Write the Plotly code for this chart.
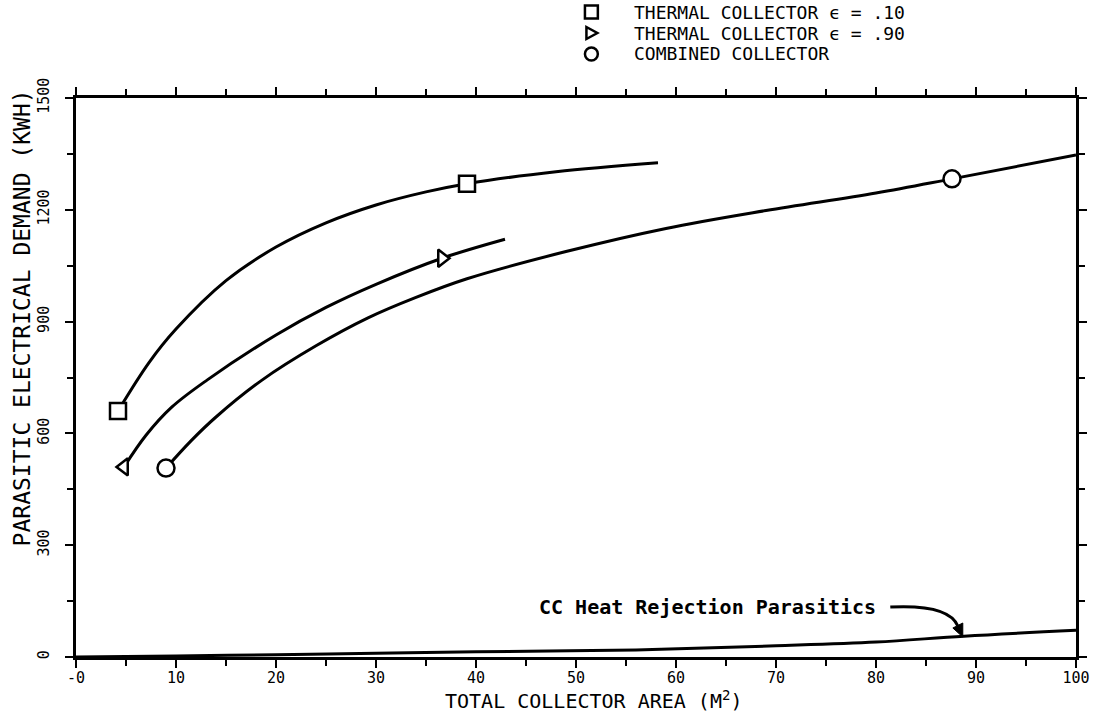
import plotly.graph_objects as go

# ---------------- data ----------------
sq_x = [4.2, 7.3, 10.0, 15.0, 20.0, 25.0, 30.0, 35.0, 39.1, 48.0, 58.2]
sq_y = [660, 790, 880, 1010, 1100, 1165, 1213, 1248, 1270, 1302, 1326]
sq_mx = [4.2, 39.1]
sq_my = [660, 1270]

tri_x = [4.8, 7.0, 9.6, 13.1, 20.0, 25.0, 30.0, 36.6, 42.9]
tri_y = [510, 595, 671, 743, 864, 938, 1000, 1070, 1121]
tri_mx = [36.6, 4.8]
tri_my = [1070, 510]
tri_sym = ["triangle-right", "triangle-left"]

cir_x = [9.0, 11.5, 14.0, 18.6, 24.0, 29.2, 34.0, 39.1, 49.0, 59.0, 69.0, 80.0, 87.6, 100.0]
cir_y = [507, 580, 644, 743, 835, 910, 965, 1015, 1088, 1150, 1198, 1245, 1283, 1347]
cir_mx = [9.0, 87.6]
cir_my = [507, 1283]

cc_x = [0, 10, 20, 30, 40, 56, 70, 80, 88.8, 100]
cc_y = [0, 3, 6, 10, 14, 19, 30, 40, 56, 72]

x_ticks = [0, 10, 20, 30, 40, 50, 60, 70, 80, 90, 100]
x_ticktext = ["-0", "10", "20", "30", "40", "50", "60", "70", "80", "90", "100"]
y_ticks = [0, 300, 600, 900, 1200, 1500]

legend_labels = ["THERMAL COLLECTOR \u03f5 = .10",
                 "THERMAL COLLECTOR \u03f5 = .90",
                 "COMBINED COLLECTOR"]

# ---------------- layout geometry ----------------
W, H = 1102, 713
L, R, T, B = 76, 1083, 98, 657
MONO = "DejaVu Sans Mono"


def px2paper(px, py):
    return (px - L) / (R - L), (B - py) / (B - T)


fig = go.Figure()

line_style = dict(color="black", width=3, shape="spline", smoothing=1.0)
for xs, ys in [(sq_x, sq_y), (tri_x, tri_y), (cir_x, cir_y), (cc_x, cc_y)]:
    fig.add_trace(go.Scatter(x=xs, y=ys, mode="lines", line=line_style,
                             showlegend=False, hoverinfo="skip"))

mk_line = dict(color="black", width=2.5)
fig.add_trace(go.Scatter(x=sq_mx, y=sq_my, mode="markers", showlegend=False,
                         marker=dict(symbol="square", size=16, color="white", line=mk_line)))
fig.add_trace(go.Scatter(x=tri_mx, y=tri_my, mode="markers", showlegend=False,
                         marker=dict(symbol=tri_sym, size=15, color="white", line=mk_line)))
fig.add_trace(go.Scatter(x=cir_mx, y=cir_my, mode="markers", showlegend=False,
                         marker=dict(symbol="circle", size=17, color="white", line=mk_line)))

# ---------------- manual legend ----------------
shapes = []
annotations = []
rows_py = [12, 33, 54]
sym_cx = 595
for i, (py, label) in enumerate(zip(rows_py, legend_labels)):
    tx, ty = px2paper(636, py)
    annotations.append(dict(x=tx, y=ty, xref="paper", yref="paper", text=label,
                            showarrow=False, xanchor="left", yanchor="middle",
                            font=dict(family=MONO, size=18, color="black")))
    h = 6.5
    x0, y0 = px2paper(sym_cx - h, py + h)
    x1, y1 = px2paper(sym_cx + h, py - h)
    if i == 0:
        shapes.append(dict(type="rect", xref="paper", yref="paper", x0=x0, y0=y0, x1=x1, y1=y1,
                           line=dict(color="black", width=2.5)))
    elif i == 1:
        a = px2paper(sym_cx - 5, py - 6)
        b = px2paper(sym_cx - 5, py + 6)
        c = px2paper(sym_cx + 6, py)
        shapes.append(dict(type="path", xref="paper", yref="paper",
                           path=f"M {a[0]},{a[1]} L {b[0]},{b[1]} L {c[0]},{c[1]} Z",
                           line=dict(color="black", width=2.5)))
    else:
        shapes.append(dict(type="circle", xref="paper", yref="paper", x0=x0, y0=y0, x1=x1, y1=y1,
                           line=dict(color="black", width=2.5)))

# axis titles
ax_x, ax_y = px2paper(597, 700)
annotations.append(dict(x=ax_x, y=ax_y, xref="paper", yref="paper",
                        text="TOTAL COLLECTOR AREA (M<sup>2</sup>)", showarrow=False,
                        xanchor="center", yanchor="middle",
                        font=dict(family=MONO, size=20, color="black")))
ay_x, ay_y = px2paper(22, 318)
annotations.append(dict(x=ay_x, y=ay_y, xref="paper", yref="paper",
                        text="PARASITIC ELECTRICAL DEMAND (KWH)", showarrow=False,
                        textangle=-90, xanchor="center", yanchor="middle",
                        font=dict(family=MONO, size=23, color="black")))

# CC annotation with curved arrow
cx, cy = px2paper(712, 607)
annotations.append(dict(x=cx, y=cy, xref="paper", yref="paper",
                        text="<b>CC Heat Rejection Parasitics</b>", showarrow=False,
                        xanchor="center", yanchor="middle",
                        font=dict(family=MONO, size=20, color="black")))
p0 = px2paper(896, 607)
pc = px2paper(955, 604)
p1 = px2paper(964, 626)
shapes.append(dict(type="path", xref="paper", yref="paper",
                   path=f"M {p0[0]},{p0[1]} Q {pc[0]},{pc[1]} {p1[0]},{p1[1]}",
                   line=dict(color="black", width=3)))
h_tip = px2paper(969, 637)
h_a = px2paper(969, 623)
h_b = px2paper(959, 628)
shapes.append(dict(type="path", xref="paper", yref="paper",
                   path=f"M {h_tip[0]},{h_tip[1]} L {h_a[0]},{h_a[1]} L {h_b[0]},{h_b[1]} Z",
                   fillcolor="black", line=dict(color="black", width=1)))

axis_common = dict(showline=True, linecolor="black", linewidth=2.5, mirror="allticks",
                   ticks="outside", ticklen=8, tickwidth=2, tickcolor="black",
                   showgrid=False, zeroline=False,
                   tickfont=dict(family=MONO, size=15, color="black"))

fig.update_layout(
    width=W, height=H,
    margin=dict(l=L, r=W - R, t=T, b=H - B),
    paper_bgcolor="white", plot_bgcolor="white",
    showlegend=False,
    shapes=shapes, annotations=annotations,
    xaxis=dict(range=[0, 100], tickvals=x_ticks, ticktext=x_ticktext, ticklabelstandoff=-3,
               minor=dict(dtick=5, tick0=0, ticks="outside", ticklen=6, tickwidth=2,
                          tickcolor="black"),
               **axis_common),
    yaxis=dict(range=[0, 1500], tickvals=y_ticks, tickangle=-90, ticklabelstandoff=10,
               minor=dict(dtick=150, tick0=0, ticks="outside", ticklen=6, tickwidth=2,
                          tickcolor="black"),
               **axis_common),
)

fig.write_html("out.html")
